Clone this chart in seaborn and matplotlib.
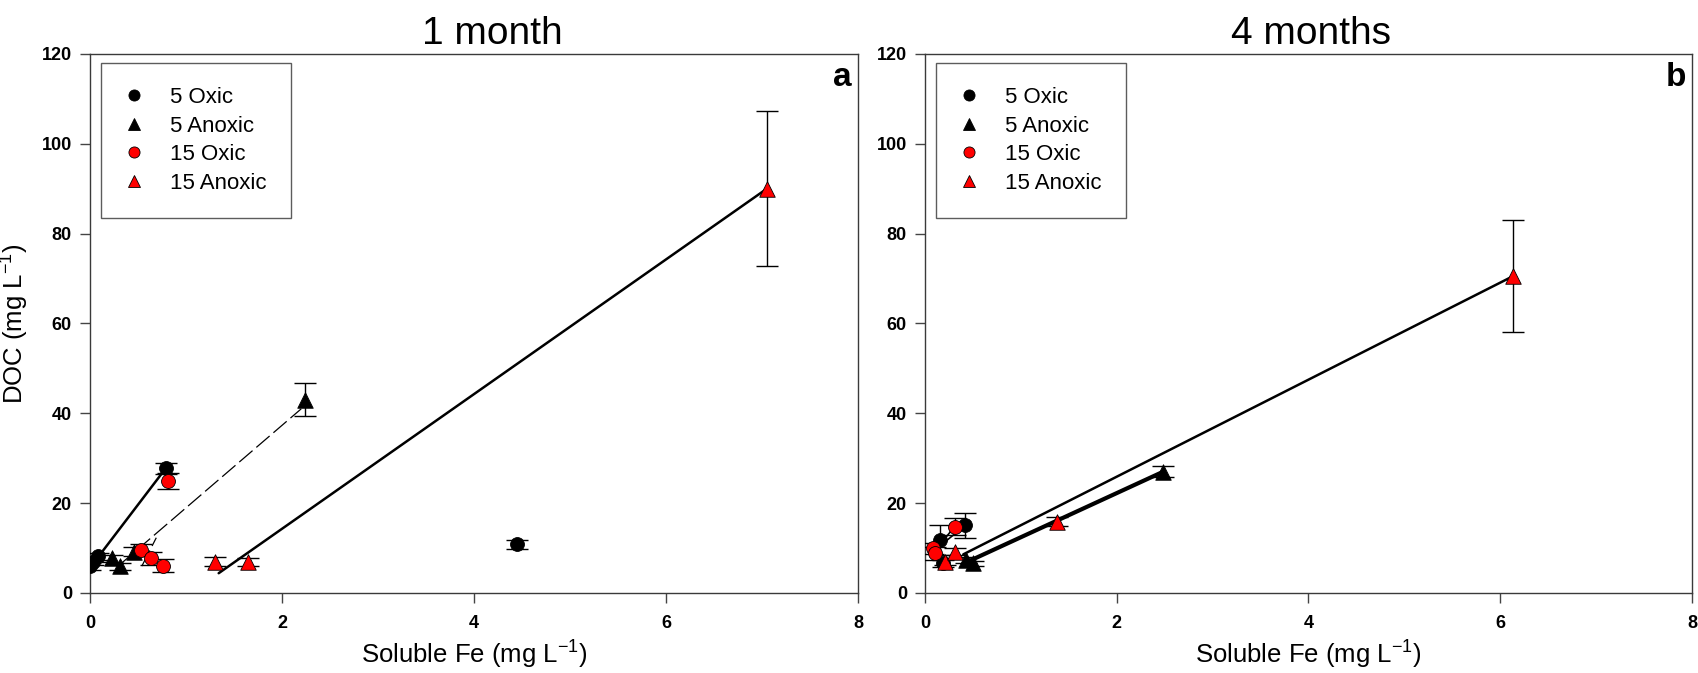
import numpy as np
import pandas as pd
import matplotlib
matplotlib.use("Agg")
import matplotlib.pyplot as plt
from matplotlib.lines import Line2D
import seaborn as sns

# ---------------- data ----------------
groups = ["5 Oxic", "5 Anoxic", "15 Oxic", "15 Anoxic"]

# 1 month
m1_ox5_x = [0.0, 0.035, 0.08, 0.79, 4.45]
m1_ox5_y = [5.9, 7.0, 8.2, 27.8, 10.8]
m1_ox5_e = [0.8, 0.8, 0.8, 1.2, 1.0]
m1_an5_x = [0.23, 0.31, 0.46, 2.24]
m1_an5_y = [7.7, 5.9, 9.2, 43.0]
m1_an5_e = [0.8, 0.8, 1.0, 3.7]
m1_ox15_x = [0.53, 0.64, 0.76, 0.81]
m1_ox15_y = [9.6, 7.7, 6.1, 25.0]
m1_ox15_e = [1.2, 1.5, 1.5, 1.8]
m1_an15_x = [1.30, 1.65, 7.05]
m1_an15_y = [7.0, 6.8, 90.0]
m1_an15_e = [0.9, 0.9, 17.2]

# 1 month regression lines (x ends, y ends)
m1_fit_ox5 = ([0.02, 0.79], [6.2, 27.8])
m1_fit_an5 = ([0.31, 2.20], [6.3, 41.0])
m1_fit_ox15 = ([0.54, 0.69], [6.0, 12.3])
m1_fit_an15 = ([1.34, 7.05], [4.4, 90.0])

# 4 months
m4_ox5_x = [0.156, 0.19, 0.42]
m4_ox5_y = [11.8, 6.6, 15.1]
m4_ox5_e = [3.3, 0.8, 2.8]
m4_an5_x = [0.43, 0.50, 2.485]
m4_an5_y = [7.3, 6.6, 27.0]
m4_an5_e = [0.6, 0.6, 1.2]
m4_ox15_x = [0.087, 0.104, 0.31]
m4_ox15_y = [9.95, 8.8, 14.8]
m4_ox15_e = [1.2, 1.5, 1.8]
m4_an15_x = [0.21, 0.31, 1.373, 6.13]
m4_an15_y = [7.0, 9.2, 15.9, 70.5]
m4_an15_e = [0.8, 0.8, 1.0, 12.5]

# 4 months regression lines
m4_fit_ox5 = ([0.16, 0.42], [10.5, 15.1])
m4_fit_an5 = ([0.45, 2.485], [7.0, 27.0])
m4_fit_ox15 = ([0.09, 0.31], [9.0, 14.8])
m4_fit_an15 = ([0.40, 6.13], [8.6, 70.5])

x_ticks = [0, 2, 4, 6, 8]
y_ticks = [0, 20, 40, 60, 80, 100, 120]
titles = ["1 month", "4 months"]
letters = ["a", "b"]

# ---------------- style ----------------
sns.set_theme(style="ticks")
plt.rcParams["font.family"] = ["Liberation Sans", "DejaVu Sans"]
plt.rcParams["mathtext.fontset"] = "custom"
plt.rcParams["mathtext.rm"] = "Liberation Sans"
plt.rcParams["mathtext.it"] = "Liberation Sans"
plt.rcParams["text.color"] = "black"
plt.rcParams["axes.labelcolor"] = "black"
plt.rcParams["xtick.labelcolor"] = "black"
plt.rcParams["ytick.labelcolor"] = "black"

colors = {"5 Oxic": "black", "5 Anoxic": "black", "15 Oxic": "#ff0000", "15 Anoxic": "#ff0000"}
markers = {"5 Oxic": "o", "5 Anoxic": "^", "15 Oxic": "o", "15 Anoxic": "^"}
sizes = {"o": 100, "^": 125}


def build_frame(sets):
    rows = []
    for g, (xs, ys, es) in zip(groups, sets):
        for x, y, e in zip(xs, ys, es):
            rows.append({"group": g, "fe": x, "doc": y, "err": e})
    return pd.DataFrame(rows)


df1 = build_frame([(m1_ox5_x, m1_ox5_y, m1_ox5_e), (m1_an5_x, m1_an5_y, m1_an5_e),
                   (m1_ox15_x, m1_ox15_y, m1_ox15_e), (m1_an15_x, m1_an15_y, m1_an15_e)])
df4 = build_frame([(m4_ox5_x, m4_ox5_y, m4_ox5_e), (m4_an5_x, m4_an5_y, m4_an5_e),
                   (m4_ox15_x, m4_ox15_y, m4_ox15_e), (m4_an15_x, m4_an15_y, m4_an15_e)])

fits1 = [(m1_fit_ox5, "-", 1.8), (m1_fit_an5, (0, (14, 4)), 0.9),
         (m1_fit_ox15, (0, (14, 4)), 0.9), (m1_fit_an15, "-", 1.8)]
fits4 = [(m4_fit_ox5, "-", 1.2), (m4_fit_an5, "-", 3.0),
         (m4_fit_ox15, "-", 1.2), (m4_fit_an15, "-", 1.8)]

fig = plt.figure(figsize=(16.99, 6.73), dpi=100)
ax1 = fig.add_axes([0.053, 0.1189, 0.452, 0.8009])
ax2 = fig.add_axes([0.5444, 0.1189, 0.4515, 0.8009])

for ax, df, fits, title, letter, tx in zip([ax1, ax2], [df1, df4], [fits1, fits4],
                                           titles, letters, [0.524, 0.503]):
    for (fx, fy), ls, lw in fits:
        ax.plot(fx, fy, color="black", linestyle=ls, linewidth=lw, zorder=2)
    for g in groups:
        sub = df[df["group"] == g]
        ax.errorbar(sub["fe"], sub["doc"], yerr=sub["err"], fmt="none", ecolor="black",
                    elinewidth=1.0, capsize=8, capthick=1.0, zorder=3)
        sns.scatterplot(data=sub, x="fe", y="doc", ax=ax, color=colors[g], marker=markers[g],
                        s=sizes[markers[g]], edgecolor="black", linewidth=0.6, zorder=4,
                        legend=False)
    ax.set_xlim(0, 8)
    ax.set_ylim(0, 120)
    ax.set_xticks(x_ticks)
    ax.set_yticks(y_ticks)
    ax.set_xticklabels([str(t) for t in x_ticks], fontweight="bold", fontsize=13)
    ax.set_yticklabels([str(t) for t in y_ticks], fontweight="bold", fontsize=13)
    ax.tick_params(axis="x", direction="out", length=7, width=1, color="#444444", pad=9)
    ax.tick_params(axis="y", direction="out", length=7, width=1, color="#444444", pad=6)
    for sp in ax.spines.values():
        sp.set_visible(True)
        sp.set_color("#3a3a3a")
        sp.set_linewidth(1.0)
    ax.set_xlabel("Soluble Fe (mg L$^{-1}$)", fontsize=18.5, labelpad=5)
    ax.set_ylabel("")
    ax.set_title(title, fontsize=28, pad=7, x=tx)
    ax.text(0.992, 0.985, letter, transform=ax.transAxes, ha="right", va="top",
            fontsize=24, fontweight="bold")

    handles = [Line2D([], [], linestyle="none", marker=markers[g], markersize=8 if markers[g] == "o" else 9,
                      markerfacecolor=colors[g], markeredgecolor="black", markeredgewidth=0.6)
               for g in groups]
    leg = ax.legend(handles, groups, loc="upper left", bbox_to_anchor=(0.014, 0.984),
                    fontsize=16, frameon=True, fancybox=False, borderpad=1.1,
                    handlelength=0.8, handletextpad=1.2, labelspacing=0.34,
                    borderaxespad=0)
    leg.get_frame().set_edgecolor("#333333")
    leg.get_frame().set_linewidth(1.0)

ax1.set_ylabel("DOC (mg L$^{-1}$)", fontsize=18.5, labelpad=8)

fig.savefig("out.png", dpi=100)
